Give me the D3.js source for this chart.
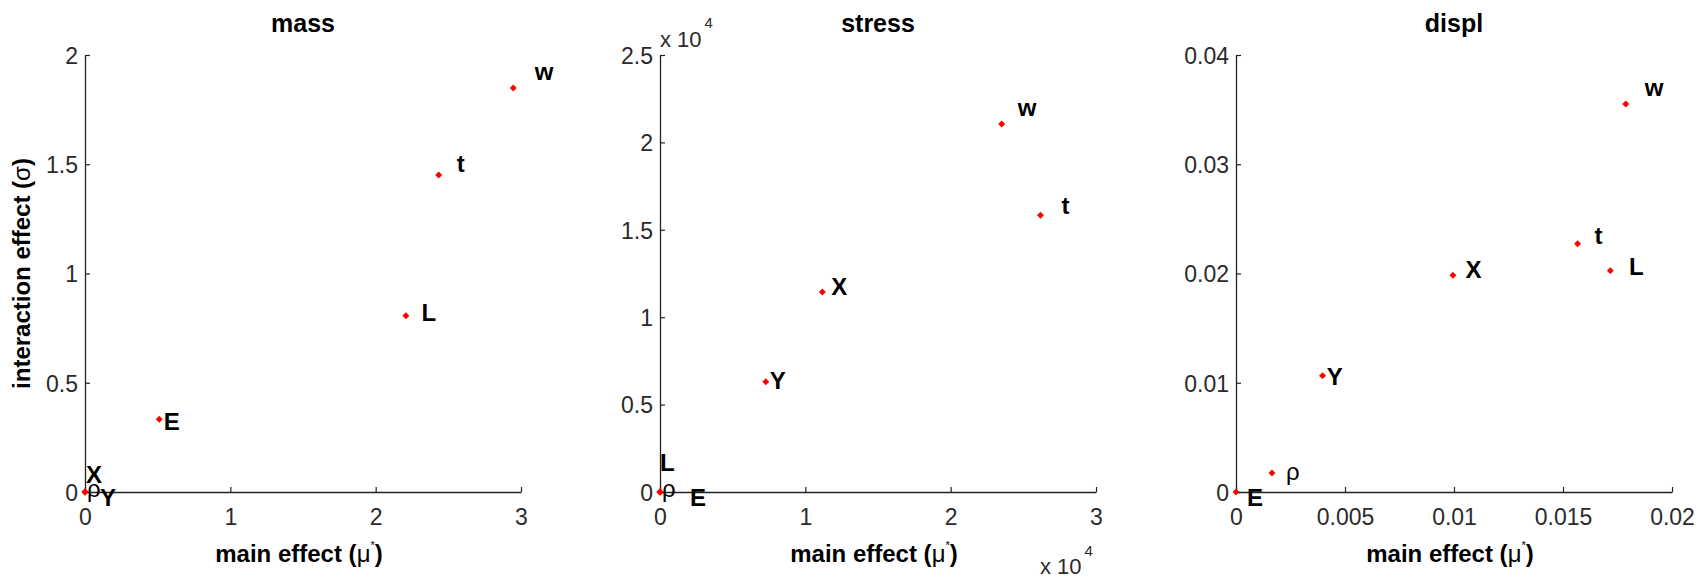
<!DOCTYPE html>
<html>
<head>
<meta charset="utf-8">
<script src="https://cdn.jsdelivr.net/npm/d3@7"></script>
<style>
  body { margin: 0; background: #fff; }
  svg { display: block; font-family: "Liberation Sans", Arial, sans-serif; }
</style>
</head>
<body>
<svg id="chart" width="1704" height="578"></svg>
<script>
// Parameter names, shared by the three outputs
const params = ["X", "Y", "ρ", "E", "L", "t", "w"];

// Morris screening results: main effect (mu*) and interaction effect (sigma)
const massMu    = [0, 0, 0, 0.511, 2.208, 2.434, 2.947];
const massSigma = [0, 0, 0, 0.333, 0.807, 1.451, 1.849];

const stressMu    = [11170, 7280, 0, 0, 0, 26180, 23510];
const stressSigma = [11440, 6310, 0, 0, 0, 15830, 21050];

const displMu    = [0.00995, 0.00397, 0.00165, 0, 0.01717, 0.01567, 0.01788];
const displSigma = [0.01984, 0.01065, 0.00174, 0, 0.02026, 0.02273, 0.03551];

// Tick values
const massXTicks   = [0, 1, 2, 3];
const massYTicks   = [0, 0.5, 1, 1.5, 2];
const stressXTicks = [0, 10000, 20000, 30000];
const stressYTicks = [0, 5000, 10000, 15000, 20000, 25000];
const displXTicks  = [0, 0.005, 0.01, 0.015, 0.02];
const displYTicks  = [0, 0.01, 0.02, 0.03, 0.04];

// Label nudges in pixels (text start, baseline) relative to each marker
const massNudgeX   = [1, 15, 2, 4.5, 15.5, 18, 21.5];
const massNudgeY   = [-9.4, 13.6, 5, 10.3, 5, -2.5, -7.7];
const stressNudgeX = [9, 4, 2, 30, 0, 21, 16];
const stressNudgeY = [2.6, 7, 5, 13.6, -21, -0.8, -7.7];
const displNudgeX  = [12.7, 4.3, 14, 11, 18.7, 17, 19];
const displNudgeY  = [2.3, 9, 6.7, 13.6, 4, 0.8, -7.7];

const svg = d3.select("#chart");
const plotTop = 55, plotBottom = 492, plotW = 436;
const tickFmt = d3.format("~g");

const panels = [
  { title: "mass",   left: 85,   mu: massMu,   sigma: massSigma,   xd: [0, 3],     yd: [0, 2],
    xt: massXTicks,   yt: massYTicks,   nx: massNudgeX,   ny: massNudgeY,   scale: 1, ylabel: true },
  { title: "stress", left: 660,  mu: stressMu, sigma: stressSigma, xd: [0, 30000], yd: [0, 25000],
    xt: stressXTicks, yt: stressYTicks, nx: stressNudgeX, ny: stressNudgeY, scale: 1e4, ylabel: false },
  { title: "displ",  left: 1236, mu: displMu,  sigma: displSigma,  xd: [0, 0.02],  yd: [0, 0.04],
    xt: displXTicks,  yt: displYTicks,  nx: displNudgeX,  ny: displNudgeY,  scale: 1, ylabel: false }
];

const marker = d3.symbol().type(d3.symbolSquare).size(24)();

panels.forEach(p => {
  const x = d3.scaleLinear().domain(p.xd).range([p.left, p.left + plotW]);
  const y = d3.scaleLinear().domain(p.yd).range([plotBottom, plotTop]);
  const fmt = d => tickFmt(d / p.scale);

  const xAxis = svg.append("g")
    .attr("transform", `translate(0,${plotBottom})`)
    .call(d3.axisBottom(x).tickValues(p.xt).tickFormat(fmt).tickSizeInner(-5).tickSizeOuter(0).tickPadding(17));
  const yAxis = svg.append("g")
    .attr("transform", `translate(${p.left},0)`)
    .call(d3.axisLeft(y).tickValues(p.yt).tickFormat(fmt).tickSizeInner(-5).tickSizeOuter(0).tickPadding(7));

  [xAxis, yAxis].forEach(g => {
    g.select(".domain").attr("stroke", "#222").attr("stroke-width", 1.3);
    g.selectAll(".tick line").attr("stroke", "#222").attr("stroke-width", 1.2);
    g.selectAll(".tick text").attr("font-size", 23).attr("fill", "#2a2a2a")
      .attr("font-family", "'Liberation Sans', Arial, sans-serif");
  });
  yAxis.selectAll(".tick text").attr("dy", "0.36em");

  // title
  svg.append("text")
    .attr("x", p.left + plotW / 2).attr("y", 32)
    .attr("text-anchor", "middle").attr("font-size", 25).attr("font-weight", "bold")
    .text(p.title);

  // x label: main effect (mu*)
  const xl = svg.append("text")
    .attr("x", p.left + plotW / 2 - 4).attr("y", 562)
    .attr("text-anchor", "middle").attr("font-size", 24).attr("font-weight", "bold");
  xl.append("tspan").text("main effect (");
  xl.append("tspan").attr("font-weight", "normal").text("μ");
  xl.append("tspan").attr("font-size", 11).attr("font-weight", "normal").attr("dy", -13).text("*");
  xl.append("tspan").attr("dy", 13).text(")");

  if (p.ylabel) {
    const yl = svg.append("text")
      .attr("transform", `translate(30,${(plotTop + plotBottom) / 2}) rotate(-90)`)
      .attr("text-anchor", "middle").attr("font-size", 24).attr("font-weight", "bold");
    yl.append("tspan").text("interaction effect (");
    yl.append("tspan").attr("font-weight", "normal").text("σ");
    yl.append("tspan").text(")");
  }

  if (p.scale !== 1) {
    // exponent notes for the scaled axes
    const ey = svg.append("text").attr("x", p.left).attr("y", 47)
      .attr("font-size", 22).attr("fill", "#2a2a2a");
    ey.append("tspan").text("x 10");
    ey.append("tspan").attr("font-size", 15).attr("dy", -19).attr("dx", 3).text(Math.log10(p.scale));
    const ex = svg.append("text").attr("x", p.left + plotW - 56).attr("y", 574)
      .attr("font-size", 22).attr("fill", "#2a2a2a");
    ex.append("tspan").text("x 10");
    ex.append("tspan").attr("font-size", 15).attr("dy", -18).attr("dx", 3).text(Math.log10(p.scale));
  }

  const pts = params.map((name, i) => ({ name, mu: p.mu[i], sigma: p.sigma[i], nx: p.nx[i], ny: p.ny[i] }));

  svg.append("g").selectAll("path").data(pts).join("path")
    .attr("d", marker)
    .attr("transform", d => `translate(${x(d.mu)},${y(d.sigma)}) rotate(45)`)
    .attr("fill", "#ff0000");

  svg.append("g").selectAll("text").data(pts).join("text")
    .attr("x", d => x(d.mu) + d.nx)
    .attr("y", d => y(d.sigma) + d.ny)
    .attr("font-size", 24)
    .attr("font-weight", d => d.name === "ρ" ? "normal" : "bold")
    .text(d => d.name);
});
</script>
</body>
</html>
